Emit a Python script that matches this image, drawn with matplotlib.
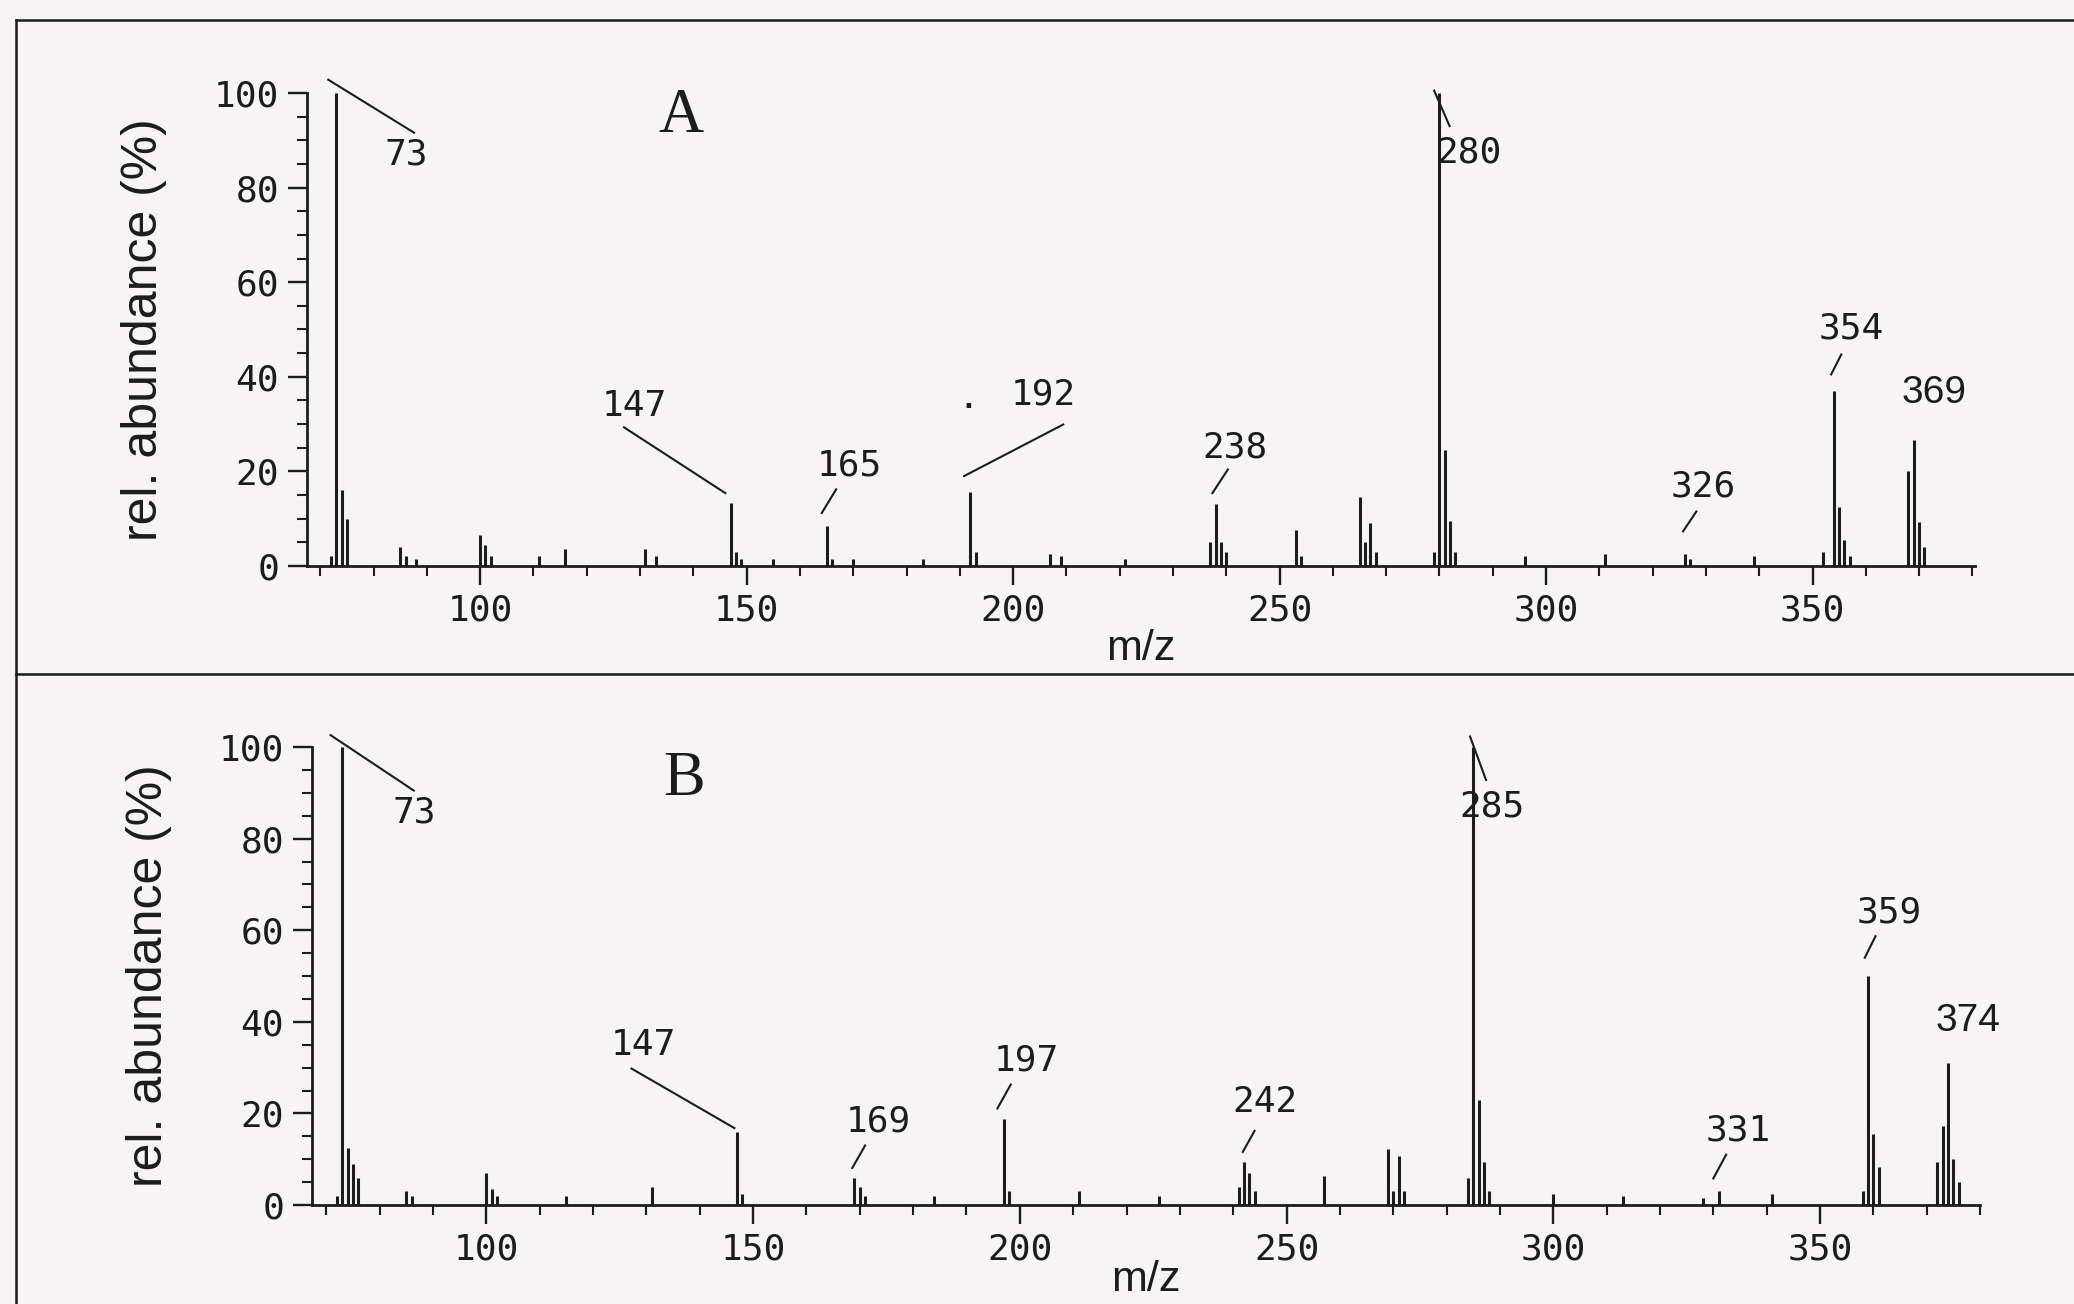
"""Spectres de masse A et B (rel. abundance vs m/z)."""
import numpy as np
import matplotlib
matplotlib.use("Agg")
import matplotlib.pyplot as plt
from matplotlib.lines import Line2D

# --- données --------------------------------------------------------------
mz_a = [72, 73, 74, 75, 85, 86, 88, 100, 101, 102, 111, 116, 131, 133,
        147, 148, 149, 155, 165, 166, 170, 183, 192, 193, 207, 209, 221,
        237, 238, 239, 240, 253, 254, 265, 266, 267, 268, 279, 280, 281,
        282, 283, 296, 311, 326, 327, 339, 352, 354, 355, 356, 357,
        368, 369, 370, 371]
int_a = [2, 100, 16, 10, 4, 2, 1.5, 6.5, 4.5, 2, 2, 3.5, 3.5, 2,
         13.4, 3, 1.5, 1.5, 8.4, 1.5, 1.5, 1.5, 15.6, 3, 2.5, 2, 1.5,
         5, 13, 5, 3, 7.5, 2, 14.5, 5, 9, 3, 3, 100, 24.6,
         9.5, 3, 2, 2.5, 2.5, 1.5, 2, 3, 37, 12.5, 5.5, 2,
         20, 26.6, 9.3, 4]

mz_b = [72, 73, 74, 75, 76, 85, 86, 100, 101, 102, 115, 131, 147, 148,
        169, 170, 171, 184, 197, 198, 211, 226, 241, 242, 243, 244, 257,
        269, 270, 271, 272, 284, 285, 286, 287, 288, 300, 313, 328, 331,
        341, 358, 359, 360, 361, 372, 373, 374, 375, 376]
int_b = [2, 100, 12.4, 9, 6, 3, 2, 7, 3.5, 2, 2, 4, 15.9, 2.5,
         6, 4, 2, 2, 18.8, 3, 3, 2, 4, 9.5, 7, 3, 6.4,
         12.3, 3, 10.8, 3, 6, 100, 23, 9.5, 3, 2.5, 2, 1.5, 3,
         2.5, 3, 50, 15.6, 8.4, 9.5, 17.3, 31, 10, 5]

# étiquettes de pics : texte, position du texte, trait (x0, y0, x1, y1)
labels_a = [("73", 86.1, 87.0, (71.5, 102.8, 87.6, 91.6)),
            ("147", 129.0, 33.8, (127.0, 29.3, 146.0, 15.4)),
            ("165", 169.3, 21.2, (166.8, 16.2, 164.1, 11.2)),
            ("192", 205.7, 36.3, (209.4, 29.9, 190.8, 19.0)),
            ("238", 241.6, 25.1, (240.3, 20.4, 237.4, 15.4)),
            ("280", 285.6, 87.4, (279.0, 100.5, 281.9, 93.0)),
            ("326", 329.5, 16.8, (328.2, 11.5, 325.7, 7.3)),
            ("354", 357.2, 50.3, (355.4, 44.7, 353.5, 40.5))]
labels_b = [("73", 86.4, 85.8, (70.8, 102.6, 86.4, 90.5)),
            ("147", 129.5, 35.0, (127.2, 29.8, 146.5, 16.8)),
            ("169", 173.5, 18.2, (171.0, 13.0, 168.6, 8.1)),
            ("197", 201.2, 31.5, (198.3, 26.3, 195.8, 21.1)),
            ("242", 246.0, 22.5, (244.0, 16.2, 241.8, 11.6)),
            ("285", 288.6, 87.0, (284.4, 102.3, 287.4, 92.8)),
            ("331", 334.7, 16.2, (332.4, 11.0, 330.0, 5.8)),
            ("359", 362.9, 63.9, (360.4, 58.7, 358.4, 54.0))]
# pic moléculaire, police différente
mol_a = ("369", 372.8, 36.6)
mol_b = ("374", 377.7, 40.2)

ENCRE = "#1c1c1c"
PAPIER = "#f6f4f4"

plt.rcParams["font.family"] = "DejaVu Sans Mono"


def spectre(ax, mz, inten, labels, mol, lettre, lettre_xy, xlim, pad_mz):
    ax.set_facecolor("none")
    ax.vlines(mz, 0, inten, color=ENCRE, linewidth=2.2)
    ax.set_xlim(*xlim)
    ax.set_ylim(0, 100)
    for s in ("top", "right"):
        ax.spines[s].set_visible(False)
    for s in ("left", "bottom"):
        ax.spines[s].set_color(ENCRE)
        ax.spines[s].set_linewidth(2.0)
    ax.set_xticks(np.arange(100, 351, 50))
    ax.set_xticks(np.arange(70, 381, 10), minor=True)
    ax.set_yticks(np.arange(0, 101, 20))
    ax.set_yticks(np.arange(0, 101, 5), minor=True)
    ax.tick_params(which="major", length=14, width=1.7, color=ENCRE,
                   labelsize=26, labelcolor=ENCRE, pad=6)
    ax.tick_params(which="minor", length=7, width=1.5, color=ENCRE)
    ax.set_xlabel("m/z", family="Liberation Sans", fontsize=31,
                  color=ENCRE, labelpad=pad_mz)
    ax.set_ylabel("rel. abundance (%)", family="Liberation Sans",
                  fontsize=36, color=ENCRE, labelpad=34)
    for txt, tx, ty, (x0, y0, x1, y1) in labels:
        ax.plot([x0, x1], [y0, y1], color=ENCRE, linewidth=1.5,
                clip_on=False)
        ax.text(tx, ty, txt, ha="center", va="center", fontsize=26,
                color=ENCRE, clip_on=False)
    ax.text(mol[1], mol[2], mol[0], ha="center", va="center",
            family="Liberation Sans", fontsize=28, color=ENCRE)
    ax.text(lettre_xy[0], lettre_xy[1], lettre, ha="center", va="center",
            family="Liberation Serif", fontsize=45, color=ENCRE)


fig = plt.figure(figsize=(20.74, 13.04), dpi=100, facecolor=PAPIER)
ax_a = fig.add_axes([0.1480, 0.5660, 0.8043, 0.3627])
ax_b = fig.add_axes([0.1504, 0.0759, 0.8043, 0.3512])

spectre(ax_a, mz_a, int_a, labels_a, mol_a, "A", (137.6, 95.0),
        (67.5, 380.5), 1)
ax_a.text(191.6, 35.5, ".", ha="center", va="center", fontsize=26,
          color=ENCRE)
spectre(ax_b, mz_b, int_b, labels_b, mol_b, "B", (137.1, 92.8),
        (67.3, 379.4), -5)

# cadre de la planche
for xs, ys in [((0.0077, 1.0), (0.985, 0.985)),
               ((0.0077, 1.0), (0.483, 0.483)),
               ((0.0077, 0.0077), (0.0, 0.985))]:
    fig.add_artist(Line2D(xs, ys, color=ENCRE, linewidth=1.8))

fig.savefig("out.png", dpi=100, facecolor=PAPIER)
